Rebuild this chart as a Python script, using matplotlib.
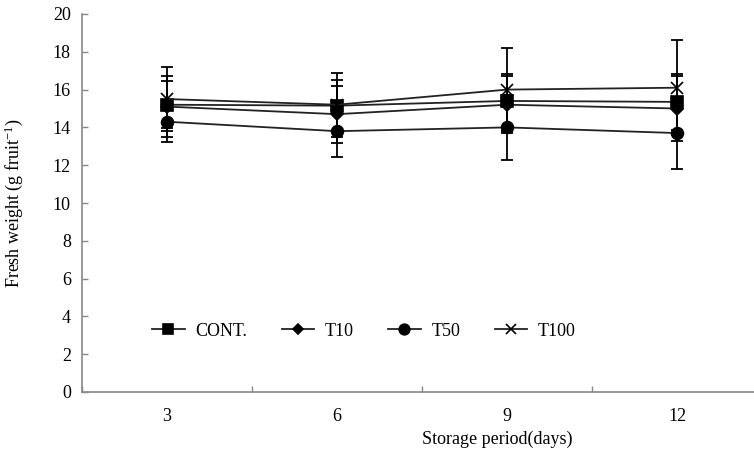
import matplotlib.pyplot as plt
import numpy as np

plt.rcParams['font.family'] = ['Liberation Serif', 'DejaVu Serif']
plt.rcParams['mathtext.fontset'] = 'custom'
plt.rcParams['mathtext.rm'] = 'Liberation Serif'
plt.rcParams['mathtext.it'] = 'Liberation Serif:italic'

days = ['3', '6', '9', '12']
cont = [15.2, 15.15, 15.4, 15.35]
t10 = [15.1, 14.7, 15.2, 15.0]
t50 = [14.3, 13.8, 14.0, 13.7]
t100 = [15.5, 15.2, 16.0, 16.1]
cont_sd = [1.25, 1.35, 1.45, 1.5]
t10_sd = [1.6, 1.5, 1.5, 1.7]
t50_sd = [1.05, 1.35, 1.72, 1.9]
t100_sd = [1.67, 1.7, 2.2, 2.5]

fig = plt.figure(figsize=(7.54, 4.59), dpi=100)
ax = fig.add_axes([82 / 754, 67 / 459, 680 / 754, 378 / 459])

x = np.arange(len(days))
series = [
    ('CONT.', cont, cont_sd, 's', 8.5),
    ('T10', t10, t10_sd, 'D', 6),
    ('T50', t50, t50_sd, 'o', 8.5),
    ('T100', t100, t100_sd, 'x', 8),
]
for name, vals, sd, mk, ms in series:
    ax.errorbar(x, vals, yerr=sd, fmt='none', ecolor='black',
                elinewidth=1.3, capsize=4, capthick=1.3)
    ax.plot(x, vals, color='#222222', lw=1.3, marker=mk, ms=ms,
            mfc='black', mec='black', mew=1.2, label=name)

ax.set_xlim(-0.5, 3.5)
ax.set_ylim(0, 20)
ax.set_yticks(np.arange(0, 21, 2))
ax.set_xticks(x)
ax.set_xticklabels(days)
ax.set_xticks([-0.5, 0.5, 1.5, 2.5, 3.5], minor=True)
ax.tick_params(axis='x', which='major', length=0, pad=11.5, labelsize=13)
ax.tick_params(axis='x', which='minor', length=4, direction='in', color='#888888', width=1)
ax.tick_params(axis='y', length=4, direction='in', color='#888888', width=1, pad=8, labelsize=13)

for s in ['top', 'right']:
    ax.spines[s].set_visible(False)
for s in ['left', 'bottom']:
    ax.spines[s].set_color('#888888')
    ax.spines[s].set_linewidth(1.2)

ax.set_xlabel('Storage period(days)', fontsize=13)
ax.xaxis.set_label_coords((497 - 82) / 680, -0.103)
ax.set_ylabel('Fresh weight (g fruit$^{-1}$)', fontsize=13)
ax.yaxis.set_label_coords(-0.084, 0.5)

ax.legend(ncol=4, frameon=False, loc='center left', bbox_to_anchor=(0.0897, 0.161),
          borderpad=0, fontsize=13, handlelength=1.8, handletextpad=0.6,
          columnspacing=1.9, markerscale=0.9)

fig.savefig('out.png', dpi=100)
